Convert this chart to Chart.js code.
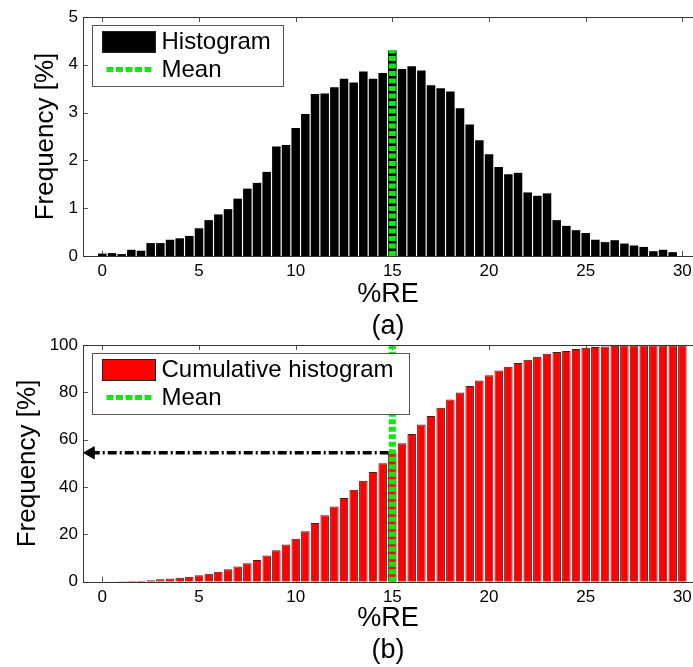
<!DOCTYPE html>
<html>
<head>
<meta charset="utf-8">
<script src="https://cdn.jsdelivr.net/npm/chart.js@4.4.1/dist/chart.umd.min.js"></script>
<style>
  body { margin: 0; background: #fff; width: 693px; height: 667px; position: relative; overflow: hidden; }
  #histChart { position: absolute; left: 0; top: 0; }
  #cumChart { position: absolute; left: 0; top: 330px; }
</style>
</head>
<body>
<canvas id="histChart" width="693" height="343"></canvas>
<canvas id="cumChart" width="693" height="337"></canvas>
<script>
// bin centres (%RE), bin width 0.5
const binCenters = [0, 0.5, 1, 1.5, 2, 2.5, 3, 3.5, 4, 4.5, 5, 5.5, 6, 6.5, 7, 7.5, 8, 8.5, 9, 9.5,
  10, 10.5, 11, 11.5, 12, 12.5, 13, 13.5, 14, 14.5, 15, 15.5, 16, 16.5, 17, 17.5, 18, 18.5, 19, 19.5,
  20, 20.5, 21, 21.5, 22, 22.5, 23, 23.5, 24, 24.5, 25, 25.5, 26, 26.5, 27, 27.5, 28, 28.5, 29, 29.5, 30];

// (a) histogram, frequency in %
const histValues = [0.05, 0.06, 0.04, 0.13, 0.11, 0.27, 0.27, 0.34, 0.37, 0.42, 0.58, 0.75, 0.87, 0.98, 1.20, 1.41, 1.53, 1.76, 2.29, 2.32,
  2.68, 2.97, 3.39, 3.40, 3.53, 3.71, 3.63, 3.86, 3.71, 3.83, 4.30, 3.91, 3.97, 3.88, 3.57, 3.51, 3.44, 3.09, 2.75, 2.42,
  2.13, 1.86, 1.71, 1.74, 1.33, 1.26, 1.31, 0.75, 0.63, 0.54, 0.48, 0.34, 0.29, 0.33, 0.26, 0.22, 0.19, 0.10, 0.13, 0.08, 0];

// (b) cumulative histogram, %
const cumValues = [0.05, 0.1, 0.15, 0.3, 0.4, 0.6, 1.0, 1.4, 1.7, 2.1, 2.7, 3.4, 4.2, 5.3, 6.4, 7.8, 9.2, 11.1, 13.3, 15.7,
  18.2, 21.3, 24.8, 28.1, 31.8, 35.4, 38.9, 42.7, 46.4, 50.1, 54.5, 58.5, 62.5, 66.5, 70.1, 73.6, 77.0, 80.0, 82.8, 85.1,
  87.3, 89.3, 90.9, 92.5, 93.9, 95.1, 96.4, 97.1, 97.6, 98.4, 98.9, 99.2, 99.5, 99.8, 100, 100, 100, 100, 100, 100, 100];

const xTicks = [0, 5, 10, 15, 20, 25, 30];
const yTicksA = [0, 1, 2, 3, 4, 5];
const yTicksB = [0, 20, 40, 60, 80, 100];

const meanRE = 15;
const meanTopA = 4.31;   // top of mean line in (a)
const meanCum = 54.5;    // cumulative % at the mean
const arrowX = -0.6;     // left end of the dash-dot marker

const FONT = "'Liberation Sans', Arial, sans-serif";
const GREEN = '#12e612';

// inward tick marks + axes box (right side is off the picture)
const framePlugin = {
  id: 'frame',
  beforeDatasetsDraw(chart) {
    const { ctx, chartArea: a, scales } = chart;
    ctx.save();
    ctx.strokeStyle = '#555';
    ctx.lineWidth = 1;
    ctx.beginPath();
    xTicks.forEach(v => {
      const px = Math.round(scales.x.getPixelForValue(v)) + 0.5;
      ctx.moveTo(px, a.bottom); ctx.lineTo(px, a.bottom - 5);
      ctx.moveTo(px, a.top); ctx.lineTo(px, a.top + 5);
    });
    scales.y.ticks.forEach(t => {
      const py = Math.round(scales.y.getPixelForValue(t.value)) + 0.5;
      ctx.moveTo(a.left, py); ctx.lineTo(a.left + 5, py);
    });
    ctx.stroke();
    ctx.restore();
  },
  afterDatasetsDraw(chart) {
    const { ctx, chartArea: a } = chart;
    ctx.save();
    ctx.strokeStyle = '#333';
    ctx.lineWidth = 1;
    ctx.beginPath();
    ctx.moveTo(a.right, Math.round(a.top) + 0.5);
    ctx.lineTo(Math.round(a.left) + 0.5, Math.round(a.top) + 0.5);
    ctx.lineTo(Math.round(a.left) + 0.5, Math.round(a.bottom) + 0.5);
    ctx.lineTo(a.right, Math.round(a.bottom) + 0.5);
    ctx.stroke();
    ctx.restore();
  }
};

// MATLAB-like legend box inside the axes
function boxLegend(boxWidth, label, fill) {
  return {
    id: 'boxLegend',
    afterDraw(chart) {
      const { ctx, chartArea: a } = chart;
      const x0 = Math.round(a.left) + 9.5, y0 = Math.round(a.top) + 8.5;
      ctx.save();
      ctx.fillStyle = '#fff';
      ctx.fillRect(x0, y0, boxWidth, 61);
      ctx.strokeStyle = '#555';
      ctx.lineWidth = 1;
      ctx.strokeRect(x0, y0, boxWidth, 61);

      ctx.fillStyle = fill;
      ctx.fillRect(x0 + 10, y0 + 6, 53, 21);
      ctx.strokeStyle = '#222';
      ctx.strokeRect(x0 + 10, y0 + 6, 53, 21);

      ctx.strokeStyle = GREEN;
      ctx.lineWidth = 5;
      ctx.setLineDash([7, 2.5]);
      ctx.beginPath();
      ctx.moveTo(x0 + 14, y0 + 44);
      ctx.lineTo(x0 + 61, y0 + 44);
      ctx.stroke();
      ctx.setLineDash([]);

      ctx.fillStyle = '#000';
      ctx.font = '24px ' + FONT;
      ctx.textBaseline = 'middle';
      ctx.textAlign = 'left';
      ctx.fillText(label, x0 + 69, y0 + 17);
      ctx.fillText('Mean', x0 + 69, y0 + 45);
      ctx.restore();
    }
  };
}

function xScale(height, subLabel) {
  return {
    type: 'linear',
    min: -1,
    max: 30.55,
    offset: false,
    afterBuildTicks: s => { s.ticks = xTicks.map(v => ({ value: v })); },
    afterFit: s => { s.height = height; s.paddingLeft = 0; s.paddingRight = 0; },
    grid: { display: false, drawTicks: false },
    border: { display: false },
    ticks: { padding: 5, color: '#000', font: { size: 17, family: FONT }, maxRotation: 0 },
    title: { display: true, text: ['%RE', subLabel], color: '#000',
      font: { size: 27, family: FONT, lineHeight: 1.2 }, padding: { top: 0, bottom: 0 } }
  };
}

function yScale(maxV, ticksArr, titlePad) {
  return {
    min: 0,
    max: maxV,
    afterBuildTicks: s => { s.ticks = ticksArr.map(v => ({ value: v })); },
    afterFit: s => { s.width = 83; },
    grid: { display: false, drawTicks: false },
    border: { display: false },
    ticks: { padding: 5, color: '#000', font: { size: 17, family: FONT } },
    title: { display: true, text: 'Frequency [%]', color: '#000',
      font: { size: 26, family: FONT, lineHeight: 1.2 }, padding: { top: titlePad, bottom: 0 } }
  };
}

const common = {
  responsive: false,
  animation: false,
  events: [],
  plugins: { legend: { display: false }, tooltip: { enabled: false } }
};

// (a) histogram
new Chart(document.getElementById('histChart').getContext('2d'), {
  type: 'bar',
  data: {
    datasets: [
      {
        type: 'line',
        data: [{ x: meanRE, y: 0 }, { x: meanRE, y: meanTopA }],
        borderColor: GREEN,
        borderWidth: 7,
        borderDash: [5, 2.5],
        borderCapStyle: 'butt',
        pointRadius: 0,
        order: 0
      },
      {
        type: 'bar',
        data: binCenters.map((x, i) => ({ x: x, y: histValues[i] })),
        backgroundColor: '#000',
        borderWidth: 0,
        barPercentage: 0.88,
        categoryPercentage: 1,
        order: 2
      }
    ]
  },
  options: Object.assign({}, common, {
    layout: { autoPadding: false, padding: { top: 17, left: 0, right: 0, bottom: 0 } },
    scales: { x: xScale(87, '(a)'), y: yScale(5, yTicksA, 30) }
  }),
  plugins: [framePlugin, boxLegend(191, 'Histogram', '#000')]
});

// (b) cumulative histogram
new Chart(document.getElementById('cumChart').getContext('2d'), {
  type: 'bar',
  data: {
    datasets: [
      {
        type: 'line',
        data: [{ x: meanRE, y: 0 }, { x: meanRE, y: 100 }],
        borderColor: GREEN,
        borderWidth: 7,
        borderDash: [5, 2.5],
        borderCapStyle: 'butt',
        pointRadius: 0,
        clip: false,
        order: 0
      },
      {
        type: 'line',
        data: [{ x: arrowX, y: meanCum }, { x: meanRE, y: meanCum }],
        borderColor: '#000',
        backgroundColor: '#000',
        borderWidth: 3.5,
        borderDash: [9, 3, 2, 3],
        borderCapStyle: 'butt',
        pointStyle: 'triangle',
        pointRotation: -90,
        pointRadius: [7, 0],
        pointBorderWidth: 1,
        clip: false,
        order: 1
      },
      {
        type: 'bar',
        data: binCenters.map((x, i) => ({ x: x, y: cumValues[i] })),
        backgroundColor: '#ff0000',
        borderColor: '#4a1a1a',
        borderWidth: 1,
        barPercentage: 0.88,
        categoryPercentage: 1,
        order: 2
      }
    ]
  },
  options: Object.assign({}, common, {
    layout: { autoPadding: false, padding: { top: 13.3, left: 0, right: 0, bottom: 0 } },
    scales: { x: xScale(85.3, '(b)'), y: yScale(100, yTicksB, 12) }
  }),
  plugins: [framePlugin, boxLegend(317, 'Cumulative histogram', '#ff0000')]
});
</script>
</body>
</html>
